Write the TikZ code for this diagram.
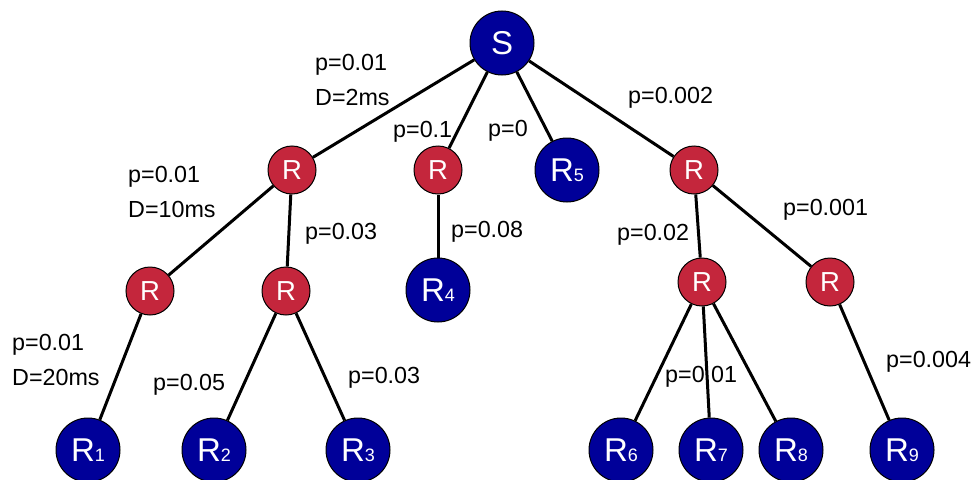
\documentclass[tikz,border=0pt]{standalone}
\usepackage{fontspec}
\setmainfont{Liberation Sans}
\definecolor{hostblue}{HTML}{000099}
\definecolor{routerred}{HTML}{C4263C}
\newcommand{\hsub}[1]{{\fontsize{18}{18}\selectfont #1}}
\tikzset{
  host/.style={circle,draw=black,line width=1pt,fill=hostblue,text=white,minimum size=64pt,inner sep=0pt,font=\fontsize{33}{33}\selectfont},
  router/.style={circle,draw=black,line width=1pt,fill=routerred,text=white,minimum size=48pt,inner sep=0pt,font=\fontsize{27.5}{27.5}\selectfont},
  prob/.style={anchor=base west,inner sep=0pt,align=left,font=\fontsize{23.3}{35}\selectfont},
  link/.style={line width=3pt}
}
\begin{document}
\begin{tikzpicture}[x=1pt,y=-1pt]
        \useasboundingbox (0,0) rectangle (974,479);
        \node[host] (S) at (502,43) {S};
        \node[router] (RA) at (292,170) {R};
        \node[router] (RB) at (438,170) {R};
        \node[host] (R5) at (567,170) {R\hsub{5}};
        \node[router] (RC) at (694,170) {R};
        \node[router] (RAA) at (150,291) {R};
        \node[router] (RAB) at (286,291) {R};
        \node[host] (R4) at (438,290) {R\hsub{4}};
        \node[router] (RCA) at (702,282) {R};
        \node[router] (RCB) at (830,282) {R};
        \node[host] (R1) at (88,450) {R\hsub{1}};
        \node[host] (R2) at (214,450) {R\hsub{2}};
        \node[host] (R3) at (358,450) {R\hsub{3}};
        \node[host] (R6) at (621,450) {R\hsub{6}};
        \node[host] (R7) at (711,450) {R\hsub{7}};
        \node[host] (R8) at (791,450) {R\hsub{8}};
        \node[host] (R9) at (902,450) {R\hsub{9}};
        \path[link]
        (S) edge (RA)
        (S) edge (RB)
        (S) edge (R5)
        (S) edge (RC)
        (RA) edge (RAA)
        (RA) edge (RAB)
        (RB) edge (R4)
        (RC) edge (RCA)
        (RC) edge (RCB)
        (RAA) edge (R1)
        (RAB) edge (R2)
        (RAB) edge (R3)
        (RCA) edge (R6)
        (RCA) edge (R7)
        (RCA) edge (R8)
        (RCB) edge (R9);
        \node[prob] (L1) at (315,105) {p=0.01\\D=2ms};
        \node[prob] (L2) at (393,137) {p=0.1};
        \node[prob] (L3) at (488,136) {p=0};
        \node[prob] (L4) at (628,103) {p=0.002};
        \node[prob] (L5) at (128,217) {p=0.01\\D=10ms};
        \node[prob] (L6) at (305,239) {p=0.03};
        \node[prob] (L7) at (451,237) {p=0.08};
        \node[prob] (L8) at (617,240) {p=0.02};
        \node[prob] (L9) at (783,215) {p=0.001};
        \node[prob] (L10) at (12,385) {p=0.01\\D=20ms};
        \node[prob] (L11) at (153,390) {p=0.05};
        \node[prob] (L12) at (348,383) {p=0.03};
        \node[prob] (L13) at (665,382) {p=0.01};
        \node[prob] (L14) at (886,367) {p=0.004};
    \end{tikzpicture}
\end{document}
